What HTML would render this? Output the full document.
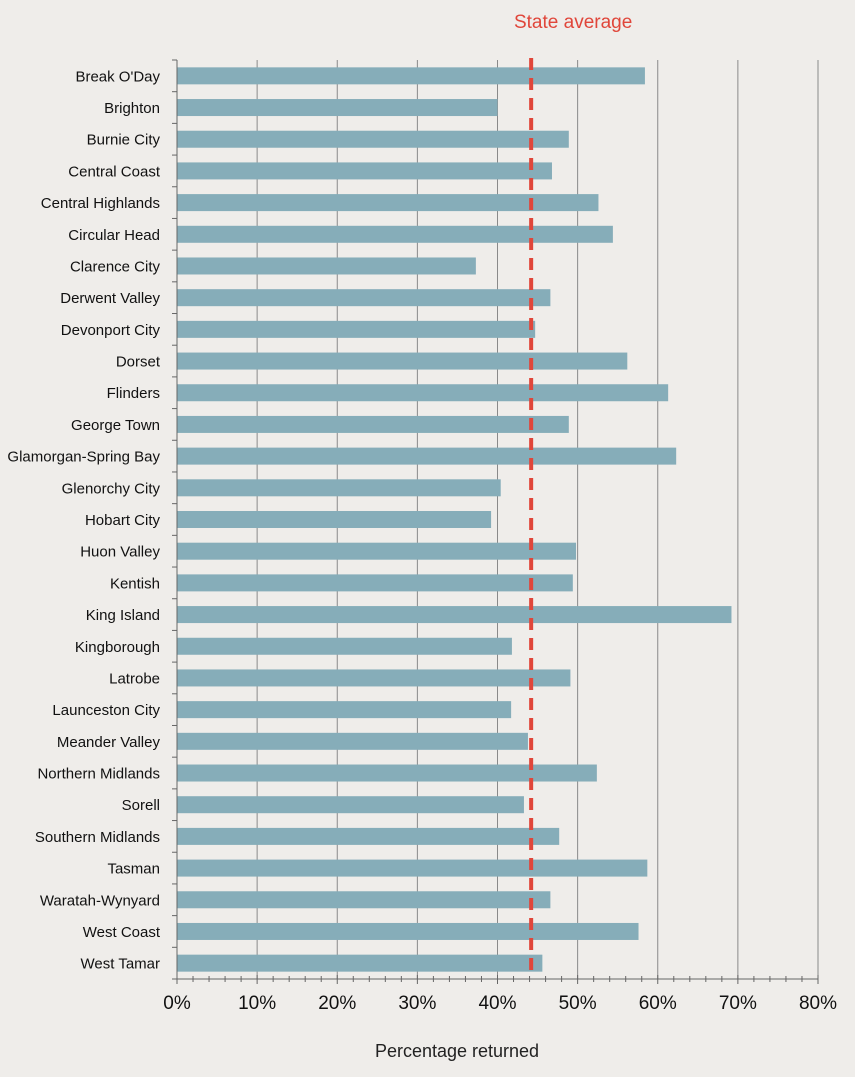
<!DOCTYPE html>
<html><head><meta charset="utf-8"><style>
html,body{margin:0;padding:0;background:#efedea;}
svg{display:block;font-family:"Liberation Sans",sans-serif;}
</style></head><body>
<svg id="chart" width="855" height="1077" viewBox="0 0 855 1077"></svg>
<script>
const categories=["Break O'Day","Brighton","Burnie City","Central Coast","Central Highlands","Circular Head","Clarence City","Derwent Valley","Devonport City","Dorset","Flinders","George Town","Glamorgan-Spring Bay","Glenorchy City","Hobart City","Huon Valley","Kentish","King Island","Kingborough","Latrobe","Launceston City","Meander Valley","Northern Midlands","Sorell","Southern Midlands","Tasman","Waratah-Wynyard","West Coast","West Tamar"];
const values=[58.4,40.0,48.9,46.8,52.6,54.4,37.3,46.6,44.7,56.2,61.3,48.9,62.3,40.4,39.2,49.8,49.4,69.2,41.8,49.1,41.7,43.8,52.4,43.3,47.7,58.7,46.6,57.6,45.6];
const stateAverage=[44.2];
const xTicks=[0,10,20,30,40,50,60,70,80];
const xTickLabels=["0%","10%","20%","30%","40%","50%","60%","70%","80%"];

const NS="http://www.w3.org/2000/svg";
const svg=document.getElementById('chart');
const x0=177,x1=818,yTop=60,yBot=979;
const xScale=v=>x0+(v/80)*(x1-x0);
const band=(yBot-yTop)/categories.length;
const yScale=i=>yTop+band*(i+0.5);
function mk(t,a){const e=document.createElementNS(NS,t);for(const k in a)e.setAttribute(k,a[k]);svg.appendChild(e);return e;}

// gridlines
xTicks.forEach((v,i)=>{
  if(v===0)return;
  const g=mk('line',{x1:xScale(v),x2:xScale(v),y1:yTop,y2:yBot,stroke:'#8a8a8a','stroke-width':1});
  
  
});
// bars
categories.forEach((c,i)=>{
  const r=mk('rect',{x:x0,y:yScale(i)-8.5,width:xScale(values[i])-x0,height:17,fill:'#86adb9'});
  
  
  const t=mk('text',{x:160,y:yScale(i)+5.5,'text-anchor':'end','font-size':15,fill:'#111'});
  t.textContent=c;
  
  
});
// y axis
const ya=mk('line',{x1:x0,x2:x0,y1:yTop,y2:yBot,stroke:'#666','stroke-width':1});


for(let i=0;i<=categories.length;i++){
  const tk=mk('line',{x1:x0-5,x2:x0,y1:yTop+band*i,y2:yTop+band*i,stroke:'#666'});
  
  
}
// x axis
const xa=mk('line',{x1:x0,x2:x1,y1:yBot,y2:yBot,stroke:'#666','stroke-width':1});


for(let v=0;v<=80;v+=2){
  const major=v%10===0;
  const tk=mk('line',{x1:xScale(v),x2:xScale(v),y1:yBot-(major?4:3),y2:yBot+(major?5:3),stroke:'#666'});
  
  
}
xTicks.forEach((v,i)=>{
  const t=mk('text',{x:xScale(v),y:1009,'text-anchor':'middle','font-size':19,fill:'#111'});
  t.textContent=xTickLabels[i];
  
  
});
const xt=mk('text',{x:457,y:1057,'text-anchor':'middle','font-size':18,fill:'#222'});
xt.textContent='Percentage returned';


// state average
const sx=xScale(stateAverage[0]);
const sl=mk('line',{x1:sx,x2:sx,y1:58,y2:975,stroke:'#e0463a','stroke-width':4,'stroke-dasharray':'12 8'});


const st=mk('text',{x:sx+42,y:28,'text-anchor':'middle','font-size':19,fill:'#e0463a'});
st.textContent='State average';


</script>
</body></html>
